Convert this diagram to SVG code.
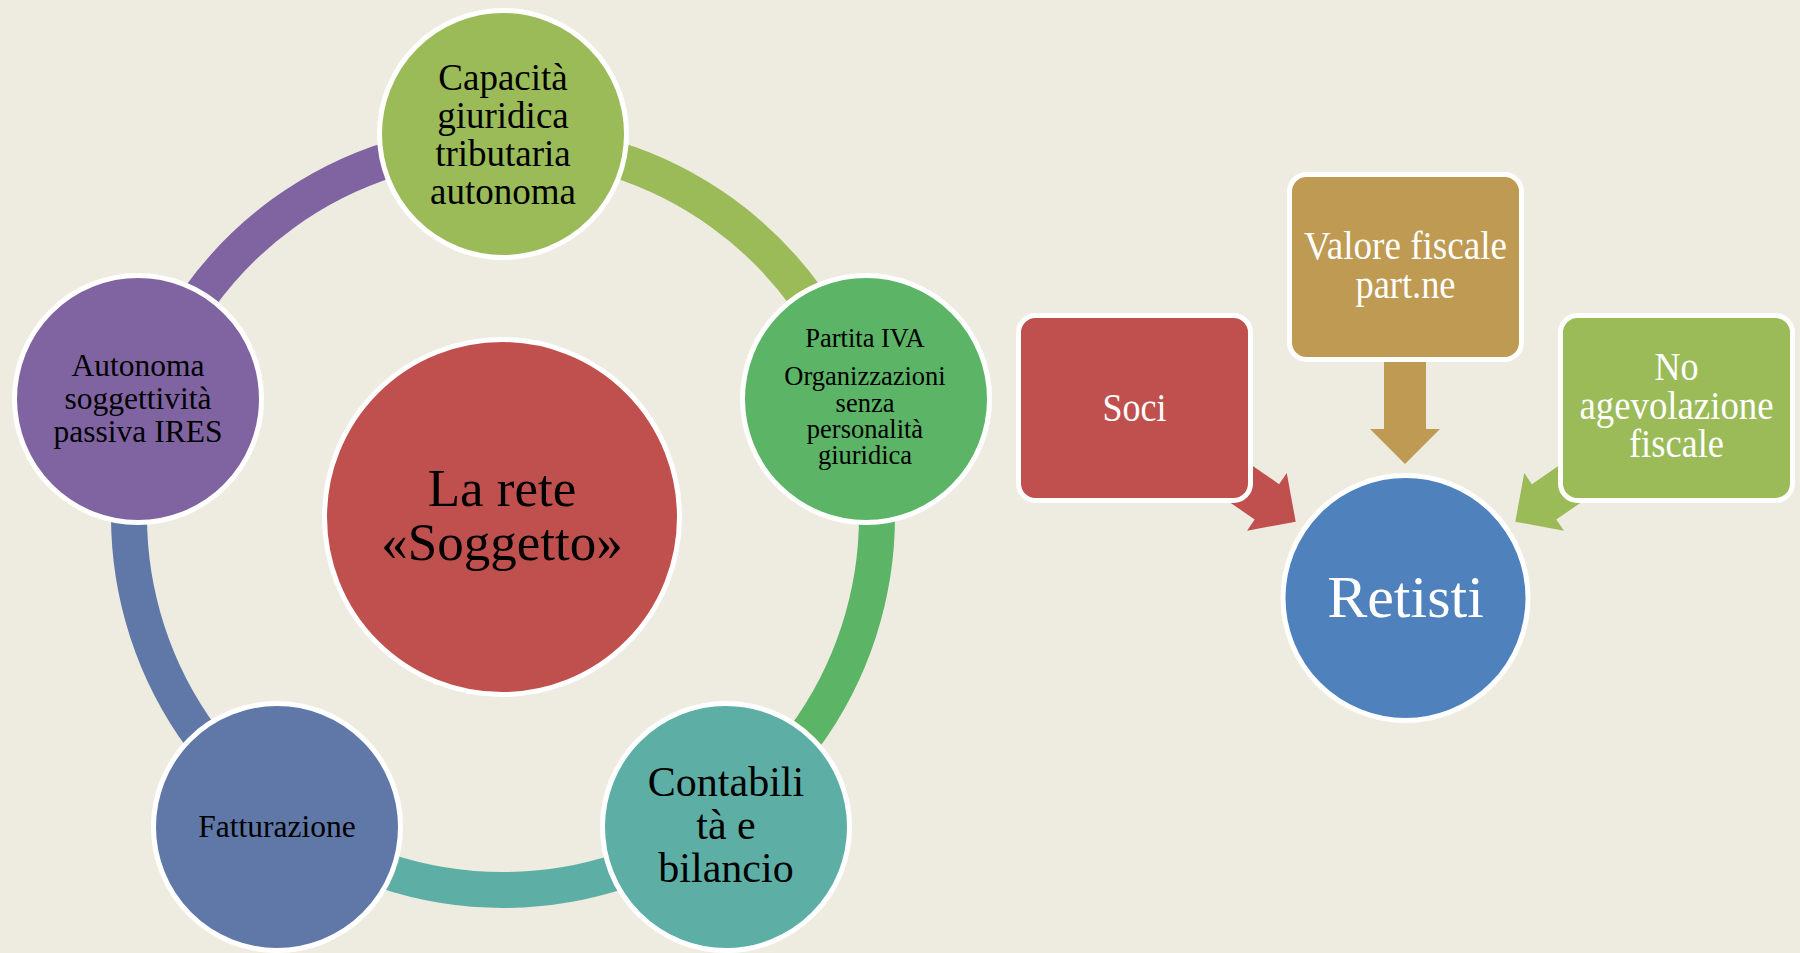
<svg xmlns="http://www.w3.org/2000/svg" width="1800" height="953" viewBox="0 0 1800 953">
  <style>
    .node { stroke: #FFFFFF; stroke-width: 5; }
    .ring { fill: none; stroke-width: 36; stroke-linecap: butt; }
    .t { font-family: "Liberation Serif", "Times New Roman", serif; text-anchor: middle; fill: #000000; }
    .w { font-family: "Liberation Serif", "Times New Roman", serif; text-anchor: middle; fill: #FFFFFF; }
  </style>
  <defs>
    <!-- block arrow pointing down, tip at the origin -->
    <polygon id="arrowDown" points="-21,-109 21,-109 21,-35 35,-35 0,0 -35,-35 -21,-35"/>
    <polygon id="arrowSide" points="-21.5,-100 21.5,-100 21.5,-35 35,-35 0,0 -35,-35 -21.5,-35"/>
  </defs>

  <rect x="0" y="0" width="1800" height="953" fill="#EEECE1"/>

  <!-- cycle ring segments -->
  <g id="connectors">
    <path class="ring" stroke="#9BBB59" d="M 503 142 A 374 374 0 0 1 858.7 400.4"/>
    <path class="ring" stroke="#5CB466" d="M 858.7 400.4 A 374 374 0 0 1 722.8 818.6"/>
    <path class="ring" stroke="#5DAFA6" d="M 722.8 818.6 A 374 374 0 0 1 283.2 818.6"/>
    <path class="ring" stroke="#6078A8" d="M 283.2 818.6 A 374 374 0 0 1 147.3 400.4"/>
    <path class="ring" stroke="#8064A2" d="M 147.3 400.4 A 374 374 0 0 1 503 142"/>

    <!-- arrows into Retisti -->
    <use href="#arrowDown" fill="#BE9A52" transform="translate(1405,464)"/>
    <use href="#arrowSide" fill="#C0504D" transform="translate(1295.7,521.7) rotate(-55.4)"/>
    <use href="#arrowSide" fill="#9BBB59" transform="translate(1515.3,521.7) rotate(55.4)"/>
  </g>

  <!-- centre of the cycle -->
  <g id="node-center">
    <circle class="node" cx="502" cy="517" r="177.5" fill="#C0504D"/>
    <text class="t" font-size="53"><tspan x="502" y="506">La rete</tspan><tspan x="502" y="560">«Soggetto»</tspan></text>
  </g>

  <g id="node-capacita">
    <circle class="node" cx="503" cy="134" r="123.5" fill="#9BBB59"/>
    <text class="t" font-size="37"><tspan x="503" y="90">Capacità</tspan><tspan x="503" y="128">giuridica</tspan><tspan x="503" y="166">tributaria</tspan><tspan x="503" y="204">autonoma</tspan></text>
  </g>

  <g id="node-partita">
    <circle class="node" cx="866" cy="399" r="123.5" fill="#5CB466"/>
    <text class="t" font-size="26.5"><tspan x="865" y="347">Partita IVA</tspan></text>
    <text class="t" font-size="26.5"><tspan x="865" y="385">Organizzazioni</tspan><tspan x="865" y="411.5">senza</tspan><tspan x="865" y="438">personalità</tspan><tspan x="865" y="463.5">giuridica</tspan></text>
  </g>

  <g id="node-contabilita">
    <circle class="node" cx="726" cy="827" r="123.5" fill="#5DAFA6"/>
    <text class="t" font-size="42"><tspan x="726" y="796">Contabili</tspan><tspan x="726" y="839">tà e</tspan><tspan x="726" y="882">bilancio</tspan></text>
  </g>

  <g id="node-fatturazione">
    <circle class="node" cx="277" cy="827" r="123.5" fill="#6078A8"/>
    <text class="t" font-size="31.5" x="277" y="837">Fatturazione</text>
  </g>

  <g id="node-autonoma">
    <circle class="node" cx="138" cy="399" r="123.5" fill="#8064A2"/>
    <text class="t" font-size="31.5"><tspan x="138" y="376">Autonoma</tspan><tspan x="138" y="409">soggettività</tspan><tspan x="138" y="442">passiva IRES</tspan></text>
  </g>

  <!-- right-hand group -->
  <g id="node-soci">
    <rect class="node" x="1018.5" y="315.5" width="232" height="185" rx="17" fill="#C0504D"/>
    <text class="w" font-size="39" x="1134.5" y="421" textLength="64" lengthAdjust="spacingAndGlyphs">Soci</text>
  </g>

  <g id="node-valore">
    <rect class="node" x="1289.5" y="174.5" width="232" height="185" rx="17" fill="#BE9A52"/>
    <text class="w" font-size="39"><tspan x="1405.5" y="259" textLength="203" lengthAdjust="spacingAndGlyphs">Valore fiscale</tspan><tspan x="1405.5" y="297.5" textLength="100" lengthAdjust="spacingAndGlyphs">part.ne</tspan></text>
  </g>

  <g id="node-agevolazione">
    <rect class="node" x="1560.5" y="315.5" width="232" height="185" rx="17" fill="#9BBB59"/>
    <text class="w" font-size="39"><tspan x="1676.5" y="380" textLength="44" lengthAdjust="spacingAndGlyphs">No</tspan><tspan x="1676.5" y="419" textLength="194" lengthAdjust="spacingAndGlyphs">agevolazione</tspan><tspan x="1676.5" y="456.5" textLength="95" lengthAdjust="spacingAndGlyphs">fiscale</tspan></text>
  </g>

  <g id="node-retisti">
    <circle class="node" cx="1405.5" cy="598" r="122.5" fill="#4F81BD"/>
    <text class="w" font-size="60" x="1405.5" y="617">Retisti</text>
  </g>
</svg>
